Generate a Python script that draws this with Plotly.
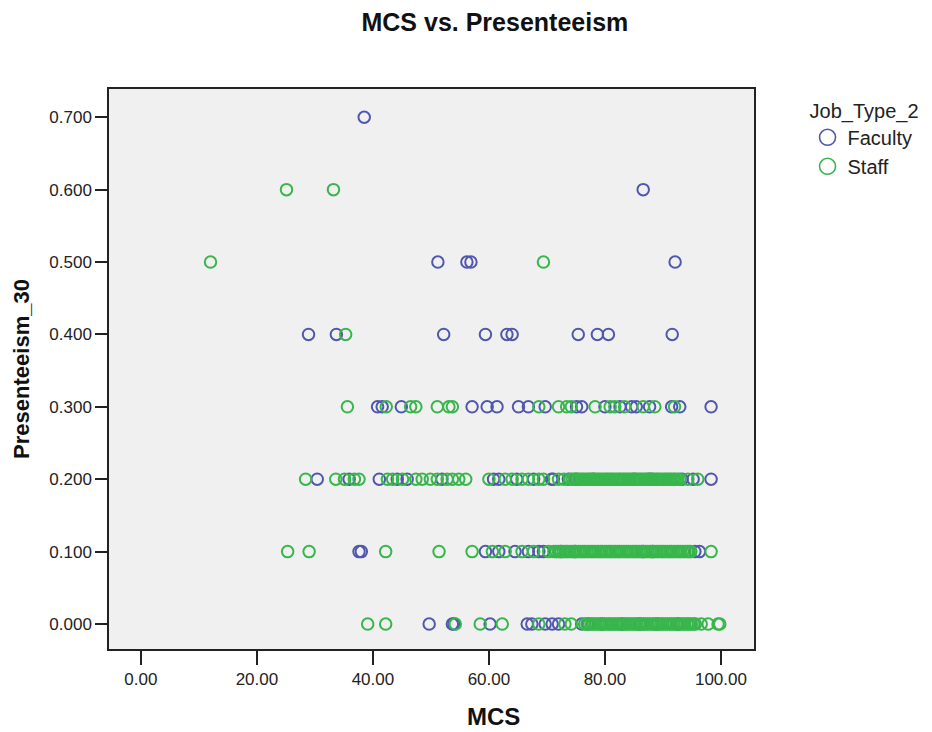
import plotly.graph_objects as go

# Presenteeism_30 levels and the MCS scores observed at each level, split by job type
levels = [0.7, 0.6, 0.5, 0.4, 0.3, 0.2, 0.1, 0.0]

faculty_mcs = {
    0.7: [38.5],
    0.6: [86.6],
    0.5: [51.2, 56.2, 56.9, 92.1],
    0.4: [28.9, 33.7, 52.2, 59.4, 63.1, 64.0, 75.4, 78.7, 80.6, 91.6],
    0.3: [40.8, 41.6, 44.9, 57.1, 59.7, 61.4, 65.1, 66.8, 69.7, 75.1, 76.0, 80.0,
          82.6, 84.6, 85.4, 87.7, 91.5, 92.9, 98.3],
    0.2: [30.4, 35.9, 41.1, 44.2, 45.9, 51.9, 60.8, 61.7, 64.8, 67.7, 70.8, 71.1,
          73.7, 75.0, 78.0, 85.0, 87.5, 88.0, 93.3, 95.2, 98.3],
    0.1: [37.6, 38.0, 59.4, 61.7, 64.5, 66.8, 68.6, 69.4, 72.4, 74.8, 86.5, 88.2,
          95.5, 96.3],
    0.0: [49.7, 53.7, 54.0, 60.2, 66.6, 67.4, 69.7, 70.9, 72.0, 76.0, 77.1, 79.5,
          83.0, 86.0, 89.0, 92.5],
}

staff_mcs = {
    0.7: [],
    0.6: [25.1, 33.2],
    0.5: [12.0, 69.4],
    0.4: [35.3],
    0.3: [35.6, 42.3, 46.5, 47.4, 51.1, 53.1, 53.7, 68.6, 72.0, 73.4, 74.2, 78.3,
          80.9, 81.7, 83.4, 86.6, 88.6, 92.0],
    0.2: [28.4, 33.6, 35.1, 36.8, 37.6, 42.5, 43.4, 45.1, 47.4, 48.5, 49.9, 51.1,
          52.8, 53.7, 54.8, 56.0, 60.0, 62.8, 64.0, 65.7, 66.8, 68.6, 69.4, 72.0,
          72.9, 74.0, 74.4, 74.8, 75.2, 75.5, 75.9, 76.2, 76.6, 77.0, 77.3, 77.6,
          78.0, 78.3, 78.7, 79.0, 79.4, 79.8, 80.2, 80.5, 80.9, 81.2, 81.6, 82.0,
          82.4, 82.7, 83.1, 83.4, 83.8, 84.1, 84.5, 84.9, 85.3, 85.6, 86.0, 86.3,
          86.7, 87.0, 87.4, 87.8, 88.2, 88.5, 88.9, 89.2, 89.6, 90.0, 90.4, 90.7,
          91.1, 91.4, 91.8, 92.1, 92.5, 92.9, 94.3, 96.0],
    0.1: [25.3, 29.0, 42.2, 51.4, 57.1, 60.6, 62.8, 65.7, 67.7, 70.3, 71.2, 71.6,
          72.0, 72.4, 72.8, 73.2, 73.5, 73.9, 74.3, 74.7, 75.0, 75.4, 75.8, 76.2,
          76.5, 76.9, 77.3, 77.7, 78.0, 78.4, 78.8, 79.2, 79.5, 79.9, 80.3, 80.7,
          81.0, 81.4, 81.8, 82.2, 82.5, 82.9, 83.3, 83.7, 84.0, 84.4, 84.8, 85.2,
          85.5, 85.9, 86.3, 86.7, 87.0, 87.4, 87.8, 88.2, 88.5, 88.9, 89.3, 89.7,
          90.0, 90.4, 90.8, 91.2, 91.5, 91.9, 92.3, 92.7, 93.0, 93.4, 93.8, 94.2,
          94.5, 94.8, 98.3],
    0.0: [39.1, 42.2, 54.2, 58.5, 62.3, 68.6, 73.1, 74.2, 76.5, 76.9, 77.3, 77.7,
          78.0, 78.4, 78.8, 79.2, 79.5, 79.9, 80.3, 80.7, 81.0, 81.4, 81.8, 82.2,
          82.5, 82.9, 83.3, 83.7, 84.0, 84.4, 84.8, 85.2, 85.5, 85.9, 86.3, 86.7,
          87.0, 87.4, 87.8, 88.2, 88.5, 88.9, 89.3, 89.7, 90.0, 90.4, 90.8, 91.2,
          91.5, 91.9, 92.3, 92.7, 93.0, 93.4, 93.8, 94.2, 94.5, 94.9, 95.3, 95.6,
          96.6, 97.8, 99.5, 99.8],
}

x_ticks = [0, 20, 40, 60, 80, 100]
y_ticks = [0.0, 0.1, 0.2, 0.3, 0.4, 0.5, 0.6, 0.7]

groups = [("Faculty", faculty_mcs, "#5058AD"), ("Staff", staff_mcs, "#38B64C")]

FONT = "Liberation Sans, Arial, sans-serif"

fig = go.Figure()

for name, data, color in groups:
    xs, ys = [], []
    for lv in levels:
        xs.extend(data[lv])
        ys.extend([lv] * len(data[lv]))
    fig.add_trace(go.Scatter(
        x=xs, y=ys, mode="markers", name=name, showlegend=False,
        marker=dict(symbol="circle-open", size=11.5, color=color,
                    line=dict(width=2, color=color)),
    ))

# legend entries drawn with larger open circles
for name, data, color in groups:
    fig.add_trace(go.Scatter(
        x=[None], y=[None], mode="markers", name=name,
        marker=dict(symbol="circle-open", size=16, color=color,
                    line=dict(width=1.6, color=color)),
    ))

axis_common = dict(
    showgrid=False, zeroline=False, showline=True, mirror=True,
    linecolor="#222222", linewidth=1.5,
    ticks="outside", tickwidth=1.5, tickcolor="#222222",
    tickfont=dict(family=FONT, size=17, color="#222222"),
)

fig.update_layout(
    width=932, height=732,
    margin=dict(l=109, r=176, t=89, b=83, pad=0),
    paper_bgcolor="white", plot_bgcolor="#F0F0F0",
    font=dict(family=FONT, color="#111111"),
    title=dict(text="<b>MCS vs. Presenteeism</b>", xref="container", x=0.531,
               xanchor="center", yref="container", y=0.97, yanchor="middle",
               font=dict(family=FONT, size=25, color="#111111")),
    xaxis=dict(range=[-5.5, 105.7], tickvals=x_ticks, tickformat=".2f",
               ticklen=14, **axis_common),
    yaxis=dict(range=[-0.0345, 0.739], tickvals=y_ticks, tickformat=".3f",
               ticklen=12,
               title=dict(text="<b>Presenteeism_30</b>", standoff=14,
                          font=dict(family=FONT, size=22, color="#111111")),
               **axis_common),
    legend=dict(x=1.083, y=0.995, xanchor="left", yanchor="top",
                bgcolor="rgba(0,0,0,0)", tracegroupgap=0,
                title=dict(text="Job_Type_2", font=dict(family=FONT, size=20, color="#222222")),
                font=dict(family=FONT, size=20, color="#222222")),
    annotations=[dict(text="<b>MCS</b>", xref="paper", yref="paper",
                      x=0.5966, y=-0.121, xanchor="center", yanchor="middle",
                      showarrow=False,
                      font=dict(family=FONT, size=24, color="#111111"))],
)

fig.write_html("out.html")
